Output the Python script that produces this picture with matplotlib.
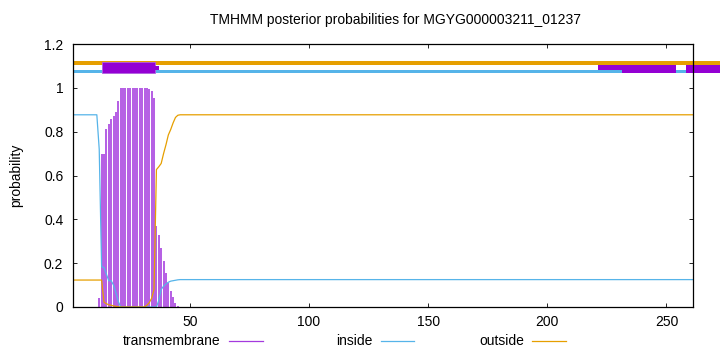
import matplotlib
matplotlib.use("Agg")
import matplotlib.pyplot as plt
from matplotlib.patches import Rectangle
from matplotlib.lines import Line2D

plt.rcParams['font.family'] = ['Liberation Sans', 'DejaVu Sans']

# ---- data ----
title = "TMHMM posterior probabilities for MGYG000003211_01237"
seq_len = 261

tm_res = list(range(12, 46))
tm_val = [0.04, 0.70, 0.70, 0.81, 0.837, 0.86, 0.87, 0.89, 0.94,
          1.0, 1.0, 1.0, 1.0, 1.0, 1.0, 1.0, 1.0, 1.0, 1.0, 1.0, 0.998, 0.995,
          0.985, 0.954, 0.37, 0.33, 0.27, 0.21, 0.155, 0.11, 0.075, 0.045, 0.02, 0.005]

inside_res = [1, 11, 12, 13, 14, 15, 16, 17, 18, 19, 20, 21, 36, 37, 38, 39, 40,
              41, 42, 43, 44, 45, 46, 261]
inside_val = [0.877, 0.877, 0.72, 0.184, 0.18, 0.15, 0.12, 0.12, 0.10, 0.065, 0.025,
              0.0, 0.0, 0.03, 0.08, 0.095, 0.105, 0.113, 0.118, 0.12, 0.122, 0.124,
              0.125, 0.125]

outside_res = [1, 12, 13, 14, 15, 16, 17, 18, 19, 20, 21, 31, 32, 33, 34, 35, 36,
               37, 38, 39, 40, 41, 42, 43, 44, 45, 46, 261]
outside_val = [0.123, 0.123, 0.123, 0.022, 0.015, 0.01, 0.008, 0.005, 0.003, 0.001,
               0.0, 0.0, 0.008, 0.02, 0.04, 0.08, 0.627, 0.64, 0.655, 0.70, 0.74,
               0.785, 0.81, 0.84, 0.865, 0.875, 0.877, 0.877]

# topology strips at the top: (start, end)
outside_strip = [(1, 272.5)]
inside_strip = [(1, 231.3), (254.0, 263.2)]
tm_boxes_tall = [(13.0, 35.3)]
tm_boxes_small = [(35.3, 37.0)]
tm_boxes_right = [(221.1, 254.0), (258.2, 272.5)]

x_ticks = [50, 100, 150, 200, 250]
y_ticks = [0, 0.2, 0.4, 0.6, 0.8, 1.0, 1.2]
y_ticklabels = ["0", "0.2", "0.4", "0.6", "0.8", "1", "1.2"]

c_tm = "#9400D3"
c_tm_imp = "#a43ade"
c_in = "#56B4E9"
c_out = "#E69F00"

fig = plt.figure(figsize=(7.2, 3.52), dpi=100)
ax = fig.add_axes([73/720, 1-307/352, (692.7-73)/720, (307-44)/352])

ax.set_xlim(1, seq_len)
ax.set_ylim(0, 1.2)

# impulses for transmembrane
ax.vlines(tm_res, 0, tm_val, color=c_tm_imp, lw=1.15, zorder=3)
ax.plot(inside_res, inside_val, color=c_in, lw=0.9, zorder=4)
ax.plot(outside_res, outside_val, color=c_out, lw=0.9, zorder=4)

# top topology strips
for s, e in outside_strip:
    ax.add_patch(Rectangle((s, 1.102), e - s, 0.020, color=c_out, lw=0, clip_on=False, zorder=5))
for s, e in tm_boxes_right[:1]:
    ax.add_patch(Rectangle((s, 1.068), e - s, 0.034, color=c_tm, lw=0, clip_on=False, zorder=6))
for s, e in inside_strip:
    ax.add_patch(Rectangle((s, 1.067), e - s, 0.015, color=c_in, lw=0, clip_on=False, zorder=7))
for s, e in tm_boxes_right[1:]:
    ax.add_patch(Rectangle((s, 1.068), e - s, 0.034, color=c_tm, lw=0, clip_on=False, zorder=8))
for s, e in tm_boxes_tall:
    ax.add_patch(Rectangle((s, 1.067), e - s, 0.052, facecolor=c_tm, edgecolor="#b060e0",
                           lw=0.6, clip_on=False, zorder=8))
for s, e in tm_boxes_small:
    ax.add_patch(Rectangle((s, 1.080), e - s, 0.021, color=c_tm, lw=0, clip_on=False, zorder=8))

ax.set_xticks(x_ticks)
ax.set_yticks(y_ticks)
ax.set_yticklabels(y_ticklabels)
ax.tick_params(direction='in', length=3, width=0.6, top=True, right=True,
               labelsize=10, pad=6, colors='black')
ax.tick_params(axis='y', pad=7)
for sp in ax.spines.values():
    sp.set_linewidth(0.9)
    sp.set_zorder(9)

fig.text(395/720, 1-20/352, title, ha='center', va='center', fontsize=10)
fig.text(16/720, 1-175/352, "probability", rotation=90, ha='center', va='center', fontsize=10)

# legend below
leg_y = 1 - 341.3/352
entries = [("transmembrane", 220.7, 229.3, 262.7, c_tm_imp),
           ("inside", 372.3, 380.7, 414.3, c_in),
           ("outside", 524.0, 532.3, 566.0, c_out)]
for label, tx, l0, l1, col in entries:
    fig.text(tx/720, leg_y, label, ha='right', va='center', fontsize=10)
    fig.add_artist(Line2D([l0/720, l1/720], [leg_y, leg_y], color=col, lw=0.9,
                          transform=fig.transFigure))

fig.savefig("out.png", dpi=100)
